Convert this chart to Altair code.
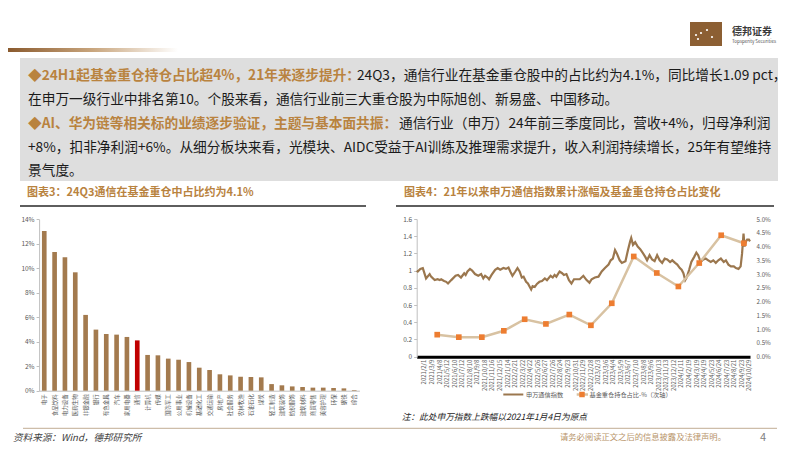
import altair as alt
import pandas as pd

FONT = "Noto Sans CJK SC"

# ---------------- data ----------------
industries = ["电子", "食品饮料", "电力设备", "医药生物", "非银金融", "银行", "有色金属", "汽车",
              "家用电器", "通信", "计算机", "传媒", "国防军工", "公用事业", "机械设备", "基础化工",
              "交通运输", "房地产", "社会服务", "农林牧渔", "石油石化", "煤炭", "轻工制造", "建筑装饰",
              "纺织服饰", "建筑材料", "商贸零售", "美容护理", "环保", "钢铁", "综合"]
industry_share = [13.05, 11.33, 10.9, 9.67, 6.19, 4.99, 4.63, 4.58, 4.39, 4.11, 2.92, 2.89, 2.62,
                  2.53, 2.34, 1.88, 1.69, 1.34, 1.25, 1.14, 1.12, 1.09, 0.54, 0.44, 0.35, 0.30,
                  0.25, 0.25, 0.22, 0.19, 0.05]
highlight = "通信"

# 申万通信指数 (trading-day index since 2021/1/4, cumulative level)
index_day = [0, 3, 10, 17, 26, 36, 40, 50, 58, 64, 68, 76, 82, 87, 96, 108, 115, 123, 132, 136,
             141, 148, 154, 162, 171, 179, 185, 190, 197, 201, 208, 218, 225, 232, 241, 248, 255,
             260, 266, 274, 280, 286, 292, 297, 304, 309, 318, 322, 328, 334, 341, 348, 356, 362,
             372, 378, 383, 388, 397, 404, 409, 416, 423, 430, 437, 446, 453, 463, 472, 480, 486,
             495, 505, 514, 523, 533, 539, 545, 551, 556, 564, 570, 580, 587, 593, 596, 601, 607,
             614, 621, 629, 635, 640, 647, 654, 661, 668, 675, 682, 689, 696, 704, 710, 718, 724,
             731, 736, 741, 746, 750, 757, 763, 771, 777, 782, 789, 796, 803, 810, 817, 824, 831,
             838, 845, 853, 859, 866, 873, 881, 887, 894, 900, 904, 908, 911, 915, 918, 923, 926]
index_level = [1.00, 0.99, 1.02, 1.03, 0.91, 0.96, 0.93, 0.89, 0.90, 0.89, 0.90, 0.88, 0.87, 0.85,
               0.89, 0.94, 0.95, 0.92, 0.97, 0.95, 0.99, 1.02, 1.00, 0.96, 0.94, 0.96, 0.91, 0.94,
               0.92, 0.90, 0.95, 1.01, 1.03, 1.01, 1.03, 1.02, 1.035, 0.99, 0.94, 0.99, 1.03, 0.99,
               0.92, 0.93, 0.87, 0.85, 0.78, 0.82, 0.81, 0.845, 0.87, 0.88, 0.91, 0.89, 0.94, 0.92,
               0.95, 0.93, 0.99, 0.97, 0.95, 0.96, 0.89, 0.85, 0.90, 0.90, 0.90, 0.94, 0.89, 0.86,
               0.90, 0.92, 0.93, 0.99, 1.03, 1.07, 1.12, 1.14, 1.24, 1.20, 1.12, 1.09, 1.11, 1.24,
               1.34, 1.38, 1.30, 1.33, 1.28, 1.25, 1.20, 1.16, 1.12, 1.18, 1.13, 1.11, 1.18, 1.12,
               1.09, 1.14, 1.13, 1.10, 1.12, 1.09, 1.07, 1.03, 1.01, 0.97, 0.89, 0.92, 1.01, 1.10,
               1.16, 1.21, 1.18, 1.10, 1.13, 1.14, 1.12, 1.10, 1.12, 1.09, 1.12, 1.14, 1.10, 1.12,
               1.07, 1.05, 1.05, 1.03, 1.02, 1.05, 1.20, 1.43, 1.28, 1.34, 1.36, 1.36, 1.34]

# 基金重仓持仓占比（%），季末交易日序号
quarter_day = [57, 117, 181, 242, 300, 359, 424, 484, 542, 603, 667, 727, 785, 846, 909]
quarter_share = [0.80, 0.71, 0.71, 0.94, 1.36, 1.19, 1.53, 1.14, 1.94, 3.64, 3.04, 2.55, 3.40, 4.41, 4.12]

date_labels = ["2021/2/1", "2021/3/9", "2021/4/8", "2021/5/12", "2021/6/10", "2021/7/12",
               "2021/8/10", "2021/9/8", "2021/10/18", "2021/11/16", "2021/12/15", "2022/1/14",
               "2022/2/21", "2022/3/22", "2022/4/22", "2022/5/26", "2022/6/27", "2022/7/26",
               "2022/8/24", "2022/9/23", "2022/10/31", "2022/11/29", "2022/12/28", "2023/2/3",
               "2023/3/6", "2023/4/4", "2023/5/9", "2023/6/7", "2023/7/10", "2023/8/8", "2023/9/6",
               "2023/10/13", "2023/11/13", "2023/12/12", "2024/1/11", "2024/2/19", "2024/3/19",
               "2024/4/19", "2024/5/23", "2024/6/24", "2024/7/23", "2024/8/21", "2024/9/23",
               "2024/10/29"]
label_start_day = 20
label_step = 21

line1_bold = "◆24H1起基金重仓持仓占比超4%，21年来逐步提升："
line1_norm = "24Q3，通信行业在基金重仓股中的占比约为4.1%，同比增长1.09 pct，"
line2 = "在申万一级行业中排名第10。个股来看，通信行业前三大重仓股为中际旭创、新易盛、中国移动。"
line3_bold = "◆AI、华为链等相关标的业绩逐步验证，主题与基本面共振："
line3_norm = "通信行业（申万）24年前三季度同比，营收+4%，归母净利润"
line4 = "+8%，扣非净利润+6%。从细分板块来看，光模块、AIDC受益于AI训练及推理需求提升，收入利润持续增长，25年有望维持"
line5 = "景气度。"
title_left = "图表3：24Q3通信在基金重仓中占比约为4.1%"
title_right = "图表4：21年以来申万通信指数累计涨幅及基金重仓持仓占比变化"
legend_index = "申万通信指数"
legend_share = "基金重仓持仓占比-%（次轴）"
note_text = "注：此处申万指数上跌幅以2021年1月4日为原点"
source_text = "资料来源：Wind，德邦研究所"
disclaimer = "请务必阅读正文之后的信息披露及法律声明。"
page_no = "4"
brand_cn = "德邦证券"
brand_en = "Topsperity Securities"

# ---------------- colours ----------------
BROWN_TXT = "#B9833F"
BAR = "#A37A4E"
RED = "#C00000"
LINE_BROWN = "#9B774E"
ORANGE = "#ED7D31"
ORANGE_LINE = "#D8C2A2"
AXIS_TXT = "#595959"

W, H = 786, 436
one = pd.DataFrame({"k": [0]})


def txt(s, x, y, size, color="#1a1a1a", weight="normal", style="normal", align="left"):
    return alt.Chart(pd.DataFrame({"t": [s]})).mark_text(
        align=align, baseline="middle", fontSize=size, color=color, fontWeight=weight,
        fontStyle=style, font=FONT
    ).encode(x=alt.value(x), y=alt.value(y), text="t:N")


def rule(x1, x2, y, color, width=1.0):
    return alt.Chart(one).mark_rule(color=color, strokeWidth=width).encode(
        x=alt.value(x1), x2=alt.value(x2), y=alt.value(y))


def rect(x1, x2, y1, y2, color):
    return alt.Chart(one).mark_rect(color=color).encode(
        x=alt.value(x1), x2=alt.value(x2), y=alt.value(y1), y2=alt.value(y2))


layers = []

# header decoration
layers.append(alt.Chart(one).mark_rect(
    color=alt.Gradient(gradient="linear",
                       stops=[alt.GradientStop(color="#8A5A2E", offset=0),
                              alt.GradientStop(color="#C9A67E", offset=0.5),
                              alt.GradientStop(color="#FFFFFF", offset=1)],
                       x1=0, x2=1, y1=0, y2=0)
).encode(x=alt.value(0), x2=alt.value(170), y=alt.value(40), y2=alt.value(44)))
layers.append(rect(682, 714, 14, 38, "#8C5F33"))
layers.append(alt.Chart(pd.DataFrame({"px": [688, 693, 690, 699, 704], "py": [27, 25, 31, 22, 29]}))
              .mark_circle(color="white", size=5, opacity=1)
              .encode(x=alt.X("px:Q", scale=alt.Scale(domain=[0, W], range=[0, W]), axis=None),
                      y=alt.Y("py:Q", scale=alt.Scale(domain=[0, H], range=[0, H]), axis=None)))
layers.append(txt(brand_cn, 724, 24, 10, color="#3a3a3a", weight="bold"))
layers.append(txt(brand_en, 724, 33.5, 4.5, color="#555555"))

# text box
layers.append(rect(12, 770, 50, 173, "#DEDEDE"))
FS = 13.7
layers.append(txt(line1_bold, 20, 68, FS, color=BROWN_TXT, weight="bold"))
layers.append(txt(line1_norm, 349, 68, FS))
layers.append(txt(line2, 20, 92, FS))
layers.append(txt(line3_bold, 20, 116, FS, color=BROWN_TXT, weight="bold"))
layers.append(txt(line3_norm, 391, 116, FS))
layers.append(txt(line4, 20, 140, FS))
layers.append(txt(line5, 20, 163, FS))

# chart titles + underline rules
layers.append(txt(title_left, 19, 185, 11, color=BROWN_TXT, weight="bold"))
layers.append(txt(title_right, 396, 185, 11, color=BROWN_TXT, weight="bold"))
layers.append(rule(12, 358, 198, "#5E5E5E", 1.8))
layers.append(rule(388, 766, 198, "#5E5E5E", 1.8))

# ---------------- left bar chart ----------------
bar_df = pd.DataFrame({"industry": industries, "share": industry_share})
bars = alt.Chart(bar_df).mark_bar().encode(
    x=alt.X("industry:N", sort=None,
            scale=alt.Scale(range=[31.1, 351.4], paddingInner=0.55, paddingOuter=0.275),
            axis=alt.Axis(orient="bottom", offset=-53.3, title=None, labelAngle=270,
                          labelFont=FONT, labelFontSize=5.5, labelColor=AXIS_TXT,
                          labelPadding=3, ticks=False, domainColor="#BFBFBF", grid=False)),
    y=alt.Y("share:Q", scale=alt.Scale(domain=[0, 14], range=[382.7, 211.3], nice=False),
            axis=alt.Axis(orient="left", offset=-31.1, title=None, values=[0, 2, 4, 6, 8, 10, 12, 14],
                          labelExpr="datum.value + '%'", labelFont=FONT, labelFontSize=6.5,
                          labelColor=AXIS_TXT, tickSize=3, tickColor="#BFBFBF",
                          domainColor="#BFBFBF", labelPadding=2, grid=False)),
    color=alt.condition(alt.datum.industry == highlight, alt.value(RED), alt.value(BAR)),
)
layers.append(bars)

# ---------------- right dual-axis chart ----------------
XR = [408.7, 742.0]
XD = [0, 926]
YR = [348.7, 211.0]
tick_days = [label_start_day + label_step * i for i in range(len(date_labels))]
label_array = "[" + ",".join("'" + s + "'" for s in date_labels) + "]"

idx_df = pd.DataFrame({"day": index_day, "level": index_level})
index_line = alt.Chart(idx_df).mark_line(color=LINE_BROWN, strokeWidth=2.2).encode(
    x=alt.X("day:Q", scale=alt.Scale(domain=XD, range=XR, nice=False, zero=False),
            axis=alt.Axis(orient="bottom", offset=-87.3, title=None, values=tick_days,
                          labelExpr=label_array + "[round((datum.value - %d) / %d)]" % (label_start_day, label_step),
                          labelAngle=270, labelFont=FONT, labelFontSize=6.0, labelColor=AXIS_TXT,
                          labelOverlap=False, labelFlush=False, labelPadding=2.5, ticks=False,
                          domainColor="#000000", domainWidth=3, grid=False)),
    y=alt.Y("level:Q", scale=alt.Scale(domain=[0, 1.6], range=YR, nice=False),
            axis=alt.Axis(orient="left", offset=-408.7, title=None,
                          values=[0, 0.2, 0.4, 0.6, 0.8, 1.0, 1.2, 1.4, 1.6], format="~g",
                          labelFont=FONT, labelFontSize=6.5, labelColor=AXIS_TXT, tickSize=3,
                          tickColor="#BFBFBF", domainColor="#BFBFBF", labelPadding=2, grid=False)),
)
layers.append(index_line)

q_df = pd.DataFrame({"day": quarter_day, "share": quarter_share})
share_line = alt.Chart(q_df).mark_line(
    color=ORANGE_LINE, strokeWidth=2.5,
    point=alt.OverlayMarkDef(shape="square", filled=True, size=32, color=ORANGE, opacity=1)
).encode(
    x=alt.X("day:Q", scale=alt.Scale(domain=XD, range=XR, nice=False, zero=False), axis=None),
    y=alt.Y("share:Q", scale=alt.Scale(domain=[0, 5], range=YR, nice=False),
            axis=alt.Axis(orient="right", offset=-44, title=None,
                          values=[0, 0.5, 1, 1.5, 2, 2.5, 3, 3.5, 4, 4.5, 5],
                          labelExpr="format(datum.value, '.1f') + '%'", labelFont=FONT,
                          labelFontSize=6.2, labelColor=AXIS_TXT, domain=False, ticks=False,
                          labelPadding=6, grid=False)),
)
layers.append(share_line)

# manual legend
LEG_Y = 386.5
layers.append(rule(495.3, 515.3, LEG_Y, LINE_BROWN, 2))
layers.append(txt(legend_index, 518, LEG_Y, 6.2, color=AXIS_TXT))
layers.append(rule(568.7, 580, LEG_Y, ORANGE_LINE, 2.5))
layers.append(alt.Chart(one).mark_square(size=30, color=ORANGE, opacity=1).encode(
    x=alt.value(574), y=alt.value(LEG_Y)))
layers.append(txt(legend_share, 581.5, LEG_Y, 6.2, color=AXIS_TXT))

# footer
layers.append(txt(note_text, 393.7, 408.7, 8.7, color="#262626", style="italic"))
layers.append(rule(15, 769, 420.3, "#CDBDA9", 1.2))
layers.append(txt(source_text, 5, 430, 9.6, color="#404040", style="italic"))
layers.append(txt(disclaimer, 552, 430, 8.3, color="#B8946A"))
layers.append(txt(page_no, 752, 430, 11, color="#808080"))

chart = alt.layer(*layers).resolve_scale(x="independent", y="independent").properties(
    width=W, height=H, autosize=alt.AutoSizeParams(type="none"), padding=0,
    background="white"
).configure_view(stroke=None)

chart.save("out.html", embed_options={"renderer": "svg", "actions": False})
